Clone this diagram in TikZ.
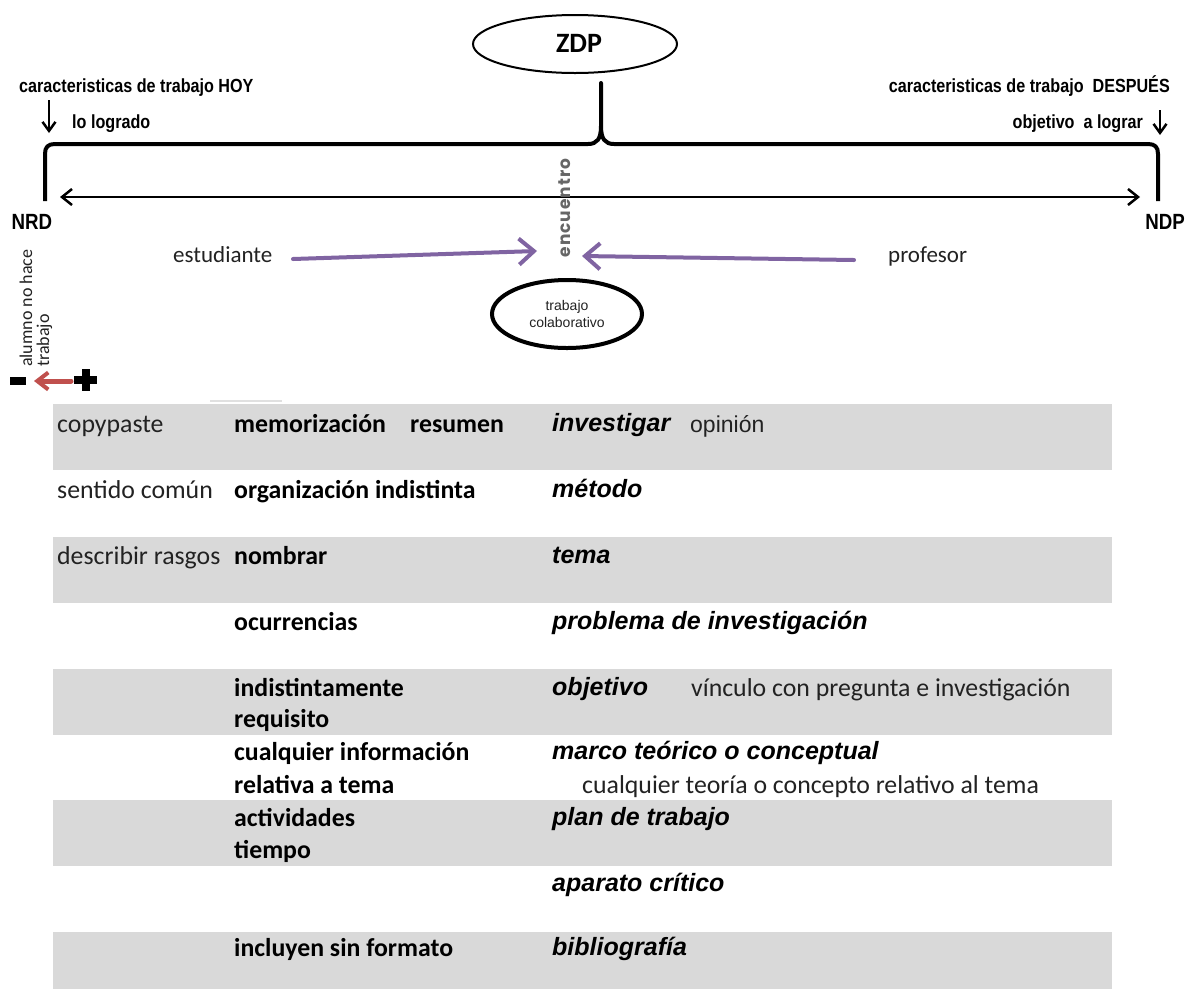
\documentclass[tikz,border=0pt]{standalone}
\usepackage{fontspec}
\setmainfont{Carlito}
\newfontfamily\arialf{Liberation Sans}
\newfontfamily\gothicf[LetterSpace=6]{Poppins}
\usetikzlibrary{arrows.meta,shapes.geometric}

\definecolor{band}{HTML}{D9D9D9}
\definecolor{violet}{HTML}{8064A2}
\definecolor{brick}{HTML}{C0504D}
\definecolor{slate}{HTML}{666666}
\definecolor{ink}{HTML}{222222}

% condensed bold sans for the scale labels
\newcommand{\condensed}[1]{\scalebox{0.85}[1]{#1}}

\tikzset{
  plain/.style={anchor=base west, inner sep=0pt, text=ink, font=\fontsize{25.8}{31}\selectfont},
  key/.style={anchor=base west, inner sep=0pt, text=black, font=\fontsize{25.8}{31}\selectfont\bfseries},
  topic/.style={anchor=base west, inner sep=0pt, text=black, font=\arialf\fontsize{25}{31}\selectfont\bfseries\itshape},
  note/.style={anchor=base west, inner sep=0pt, text=ink, font=\arialf\fontsize{23}{27}\selectfont},
  scalelbl/.style={inner sep=0pt, text=black, font=\arialf\fontsize{19}{22}\selectfont\bfseries},
  levellbl/.style={inner sep=0pt, anchor=base, text=black, font=\arialf\fontsize{22}{26}\selectfont\bfseries},
  actor/.style={anchor=base west, inner sep=0pt, text=ink, font=\fontsize{23}{28}\selectfont},
  sidelbl/.style={anchor=base west, inner sep=0pt, rotate=90, text=ink, font=\fontsize{18}{21}\selectfont},
  pointer/.style={line width=2.5pt, -{Straight Barb[length=9pt,width=13pt,line width=2.5pt]}},
  meet/.style={violet, line width=4pt, line cap=round, -{Straight Barb[length=15pt,width=26pt,line width=4pt]}},
}

\begin{document}
\begin{tikzpicture}[x=1pt,y=-1pt]
\useasboundingbox (0,0) rectangle (1185,989);
\fill[white] (0,0) rectangle (1185,989);

% ---------- upper scheme ----------
\node[draw, ellipse, line width=2pt, minimum width=204pt, minimum height=58pt, inner sep=0pt] (zdp) at (575,44) {};
\node[inner sep=0pt, font=\fontsize{28}{30}\selectfont\bfseries] (zdptext) at (579,43) {ZDP};

% bracket spanning the two levels
\draw[line width=4pt, line join=round]
  (45,201) -- (45,154) .. controls (45,147) and (48,144) .. (55,144)
  -- (588,144) .. controls (597,144) and (601,139) .. (601,126) -- (601,83)
  -- (601,126) .. controls (601,139) and (605,144) .. (614,144)
  -- (1148,144) .. controls (1155,144) and (1158,147) .. (1158,154) -- (1158,201);

\coordinate (nrdTip) at (60,197);
\coordinate (ndpTip) at (1140,197);
\draw[line width=2.5pt, {Straight Barb[length=10pt,width=16pt,line width=2.5pt]}-{Straight Barb[length=10pt,width=16pt,line width=2.5pt]}]
  (nrdTip) -- (ndpTip);

\node[levellbl] (nrd) at (32,229) {\condensed{NRD}};
\node[levellbl] (ndp) at (1165,229) {\condensed{NDP}};

\node[scalelbl, anchor=base west] (hoy) at (19,92) {\condensed{caracteristicas de trabajo HOY}};
\node[scalelbl, anchor=base west] (logrado) at (72,128) {\condensed{lo logrado}};
\node[scalelbl, anchor=base east] (despues) at (1170,92) {\condensed{caracteristicas de trabajo\ \ DESPUÉS}};
\node[scalelbl, anchor=base east] (alograr) at (1143,128) {\condensed{objetivo\ \ a lograr}};

\coordinate (hoyA) at (49,100);
\coordinate (hoyB) at (49,133);
\coordinate (despA) at (1160,110);
\coordinate (despB) at (1160,135);
\draw[pointer] (hoyA) -- (hoyB);
\draw[pointer] (despA) -- (despB);

\node[inner sep=0pt, rotate=90, text=slate, font=\gothicf\fontsize{17}{20}\selectfont\bfseries] (enc) at (565,208) {encuentro};

\node[actor] (stu) at (173,262) {estudiante};
\node[actor] (prof) at (888,262) {profesor};

\coordinate (stuStart) at (293,259);
\coordinate (encL) at (537,251);
\coordinate (profStart) at (854,260);
\coordinate (encR) at (582,256);
\draw[meet] (stuStart) -- (encL);
\draw[meet] (profStart) -- (encR);

\node[draw, ellipse, line width=4pt, minimum width=150pt, minimum height=68pt, inner sep=0pt,
      align=center, text=ink, font=\arialf\fontsize{14}{17}\selectfont] (colab) at (567,314)
      {trabajo\\colaborativo};

% left margin: direction of the scale
\node[sidelbl] (alumno) at (32,367) {alumno no hace};
\node[sidelbl] (trab) at (49,367) {trabajo};
\fill[black] (10,377) rectangle (26,385);
\coordinate (redA) at (71,381);
\coordinate (redB) at (34,381);
\draw[brick, line width=5pt, line cap=round, -{Straight Barb[length=11pt,width=17pt,line width=4pt]}] (redA) -- (redB);
\fill[black] (74,376) rectangle (97,384);
\fill[black] (82,369) rectangle (90,391);
\draw[black!12, line width=2pt] (210,401) -- (282,401);

% ---------- table ----------
\foreach \t/\b in {404/470, 537/603, 669/735, 800/866, 932/989}
  \fill[band] (53,\t) rectangle (1112,\b);

\node[plain] (c1) at (57,432) {copypaste};
\node[key] (k1a) at (234,432) {memorización};
\node[key] (k1b) at (410,432) {resumen};
\node[topic] (t1) at (552,431) {investigar};
\node[note] (n1) at (690,432) {opinión};

\node[plain] (c2) at (57,498) {sentido común};
\node[key] (k2) at (234,498) {organización indistinta};
\node[topic] (t2) at (552,497) {método};

\node[plain] (c3) at (57,564) {describir rasgos};
\node[key] (k3) at (234,564) {nombrar};
\node[topic] (t3) at (552,563) {tema};

\node[key] (k4) at (234,630) {ocurrencias};
\node[topic] (t4) at (552,629) {problema de investigación};

\node[key] (k5a) at (234,696) {indistintamente};
\node[key] (k5b) at (234,727) {requisito};
\node[topic] (t5) at (552,695) {objetivo};
\node[plain] (n5) at (691,696) {vínculo con pregunta e investigación};

\node[key] (k6a) at (234,760) {cualquier información};
\node[key] (k6b) at (234,793) {relativa a tema};
\node[topic] (t6) at (552,759) {marco teórico o conceptual};
\node[plain] (n6) at (582,793) {cualquier teoría o concepto relativo al tema};

\node[key] (k7a) at (234,826) {actividades};
\node[key] (k7b) at (234,858) {tiempo};
\node[topic] (t7) at (552,825) {plan de trabajo};

\node[topic] (t8) at (552,891) {aparato crítico};

\node[key] (k9) at (234,956) {incluyen sin formato};
\node[topic] (t9) at (552,955) {bibliografía};
\end{tikzpicture}
\end{document}
